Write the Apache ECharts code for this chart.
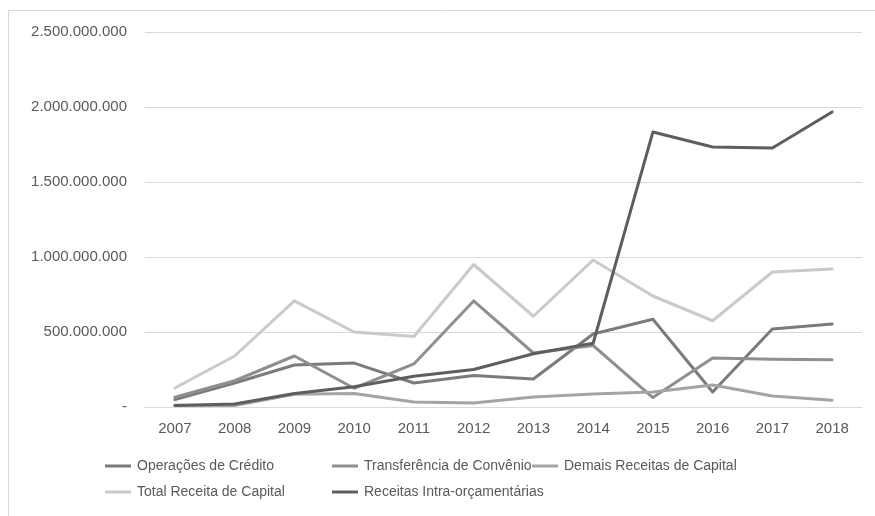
<!DOCTYPE html>
<html>
<head>
<meta charset="utf-8">
<script src="https://cdn.jsdelivr.net/npm/echarts@6/dist/echarts.min.js"></script>
<style>
    html, body { margin: 0; padding: 0; background: #fff; }
    #chart { width: 875px; height: 516px; }
</style>
</head>
<body>
<div id="chart"></div>
<script>
//===============!数据=================
var anos = ['2007', '2008', '2009', '2010', '2011', '2012', '2013', '2014', '2015', '2016', '2017', '2018'];
var nomes = ['Operações de Crédito', 'Transferência de Convênio', 'Demais Receitas de Capital', 'Total Receita de Capital', 'Receitas Intra-orçamentárias'];
// valores em milhões
var opCredito = [50, 160, 280, 293, 160, 210, 187, 487, 585, 100, 520, 553];
var transfConvenio = [65, 175, 340, 125, 287, 707, 360, 410, 63, 327, 318, 315];
var demaisReceitas = [12, 10, 85, 90, 33, 27, 67, 87, 100, 147, 73, 45];
var totalReceita = [127, 340, 707, 500, 470, 950, 605, 980, 740, 575, 900, 920];
var intraOrc = [10, 20, 90, 135, 205, 250, 355, 425, 1833, 1733, 1727, 1967];
var cores = ['#7b7b7b', '#8f8f8f', '#a4a4a4', '#cacaca', '#5e5e5e'];

function mi(arr) {
    return arr.map(function (v) { return v * 1000000; });
}

function fmt(v) {
    if (v === 0) return '-';
    return String(v).replace(/\B(?=(\d{3})+(?!\d))/g, '.');
}

var valores = [opCredito, transfConvenio, demaisReceitas, totalReceita, intraOrc];
var series = [];
for (var i = 0; i < nomes.length; i++) {
    series.push({
        name: nomes[i],
        type: 'line',
        data: mi(valores[i]),
        symbol: 'none',
        z: i == 4 ? 5 : 2,
        lineStyle: { width: 3, color: cores[i], cap: 'round', join: 'round' },
        itemStyle: { color: cores[i] }
    });
}

//===============!图例(每项单独定位)=================
var legPos = [[100, 463], [327, 463], [527, 463], [100, 489], [327, 489]];
var legends = [];
for (var j = 0; j < nomes.length; j++) {
    legends.push({
        data: [nomes[j]],
        left: legPos[j][0],
        top: legPos[j][1] - 9,
        icon: 'rect',
        itemWidth: 26,
        itemHeight: 3,
        itemGap: 0,
        selectedMode: false,
        textStyle: { color: '#595959', fontSize: 14, fontFamily: 'Liberation Sans', padding: [0, 0, 0, 1] }
    });
}

var dom = document.getElementById('chart');
var myChart = echarts.init(dom);
var option = {
    animation: false,
    backgroundColor: '#fff',
    graphic: [{
        type: 'rect',
        shape: { x: 8.5, y: 10.5, width: 900, height: 600 },
        style: { fill: 'none', stroke: '#d9d9d9', lineWidth: 1 },
        silent: true
    }],
    legend: legends,
    grid: { left: 145, right: 13, top: 32, bottom: 109 },
    xAxis: {
        type: 'category',
        data: anos,
        boundaryGap: true,
        axisLine: { lineStyle: { color: '#d9d9d9', width: 1 } },
        axisTick: { show: false },
        axisLabel: { color: '#595959', fontSize: 15, fontFamily: 'Liberation Sans', margin: 14 }
    },
    yAxis: {
        type: 'value',
        min: 0,
        max: 2500000000,
        interval: 500000000,
        axisLine: { show: false },
        axisTick: { show: false },
        splitLine: { lineStyle: { color: '#d9d9d9', width: 1 } },
        axisLabel: { color: '#595959', fontSize: 15, fontFamily: 'Liberation Sans', margin: 18, formatter: fmt }
    },
    series: series
};
myChart.setOption(option);
</script>
</body>
</html>
